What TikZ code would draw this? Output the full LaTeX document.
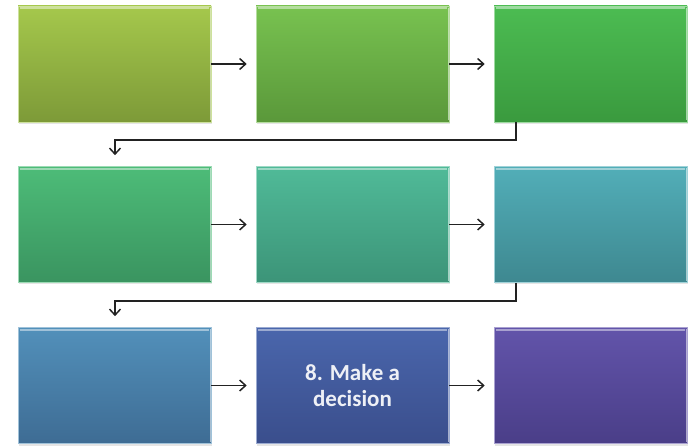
\documentclass[tikz,border=0pt]{standalone}
\usepackage{fontspec}
\setmainfont{Carlito}
\usetikzlibrary{arrows.meta}

% step colours, top and bottom of each box
\definecolor{aT}{HTML}{A5C84C}\definecolor{aB}{HTML}{7D9A38}
\definecolor{bT}{HTML}{78C250}\definecolor{bB}{HTML}{5A983A}
\definecolor{cT}{HTML}{4CBC52}\definecolor{cB}{HTML}{3A9A3E}
\definecolor{dT}{HTML}{4DBC78}\definecolor{dB}{HTML}{3A9460}
\definecolor{eT}{HTML}{50BA98}\definecolor{eB}{HTML}{3C9478}
\definecolor{fT}{HTML}{52AEB8}\definecolor{fB}{HTML}{3E8890}
\definecolor{gT}{HTML}{5290BA}\definecolor{gB}{HTML}{3E6C94}
\definecolor{hT}{HTML}{4A66AC}\definecolor{hB}{HTML}{3A4E8C}
\definecolor{iT}{HTML}{6254AA}\definecolor{iB}{HTML}{4A3E88}
\definecolor{linkgray}{HTML}{222222}
\definecolor{labelwhite}{HTML}{EEF0F6}

\tikzset{
  stepbox/.style 2 args={
    rectangle, minimum width=193pt, minimum height=116pt, inner sep=0pt,
    top color=#1, bottom color=#2,
    draw=#1!55!white, line width=0.6pt
  },
  bevel/.style={draw=white, opacity=0.45, line width=2.2pt},
  rim/.style={draw=white, opacity=0.55, line width=1.4pt},
  boxshadow/.style={fill=black, opacity=0.10},
  link/.style={draw=linkgray, line width=1.4pt,
    -{Straight Barb[length=6pt,width=11pt,line width=1.5pt]}},
  steplabel/.style={text=labelwhite, font=\bfseries\fontsize{23}{26}\selectfont,
    align=center}
}

\begin{document}
\begin{tikzpicture}[x=1pt,y=-1pt]
\useasboundingbox (0,0) rectangle (691,446);

% soft shadows below the boxes
\foreach \cx/\cy in {114.5/64, 352.5/64, 590.5/64,
                     114.5/224.5, 352.5/224.5, 590.5/224.5,
                     114.5/385.5, 352.5/385.5, 590.5/385.5}
  \fill[boxshadow] (\cx-95.5,\cy-56) rectangle (\cx+97.5,\cy+60);

% the nine steps
\node[stepbox={aT}{aB}] (s1) at (114.5,64) {};
\node[stepbox={bT}{bB}] (s2) at (352.5,64) {};
\node[stepbox={cT}{cB}] (s3) at (590.5,64) {};
\node[stepbox={dT}{dB}] (s4) at (114.5,224.5) {};
\node[stepbox={eT}{eB}] (s5) at (352.5,224.5) {};
\node[stepbox={fT}{fB}] (s6) at (590.5,224.5) {};
\node[stepbox={gT}{gB}] (s7) at (114.5,385.5) {};
\node[stepbox={hT}{hB}] (s8) at (352.5,385.5) {};
\node[stepbox={iT}{iB}] (s9) at (590.5,385.5) {};

% bevel along the top and a light rim on the right of every box
\foreach \b in {s1,s2,s3,s4,s5,s6,s7,s8,s9} {
  \draw[bevel] ([xshift=2pt,yshift=-2.5pt]\b.north west) -- ([xshift=-2pt,yshift=-2.5pt]\b.north east);
  \draw[rim] ([xshift=-1pt,yshift=-2pt]\b.north east) -- ([xshift=-1pt,yshift=2pt]\b.south east);
}

\node[steplabel] (t8) at (352.5,385.5) {8. Make a\\decision};

% links within each row
\draw[link] (s1.east) -- ([xshift=-9pt]s2.west);
\draw[link] (s2.east) -- ([xshift=-9pt]s3.west);
\draw[link] (s4.east) -- ([xshift=-9pt]s5.west);
\draw[link] (s5.east) -- ([xshift=-9pt]s6.west);
\draw[link] (s7.east) -- ([xshift=-9pt]s8.west);
\draw[link] (s8.east) -- ([xshift=-9pt]s9.west);

% elbow links between rows
\coordinate (e1) at (516,140);
\coordinate (e2) at (516,301);
\draw[link] (s3.south -| e1) -- (e1) -- (e1 -| 115,0) -- ([yshift=11pt]s4.north -| 115,0);
\draw[link] (s6.south -| e2) -- (e2) -- (e2 -| 115,0) -- ([yshift=11pt]s7.north -| 115,0);
\end{tikzpicture}
\end{document}
